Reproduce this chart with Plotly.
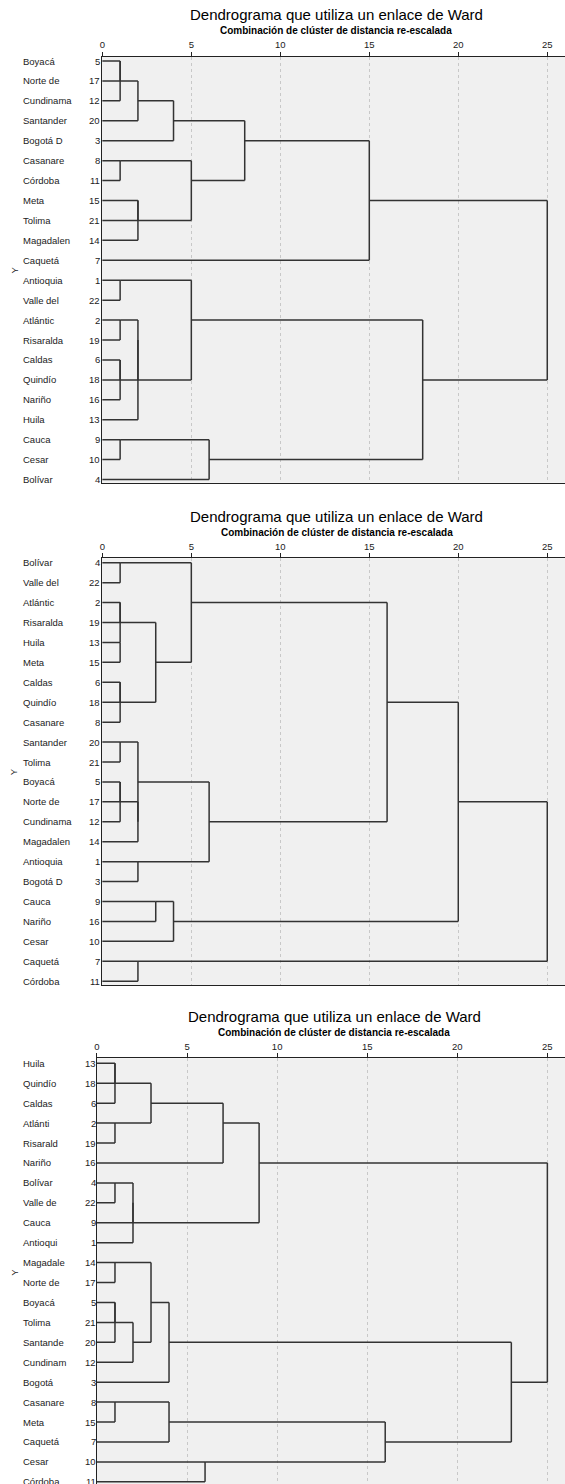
import math
import plotly.graph_objects as go

W, H = 565, 1484

# ---------------- data ----------------
title_text = "Dendrograma que utiliza un enlace de Ward"
subtitle_text = "Combinación de clúster de distancia re-escalada"
x_ticks = [0, 5, 10, 15, 20, 25]
y_title = "Y"

# Panel 1
names1 = ["Boyacá", "Norte de", "Cundinama", "Santander", "Bogotá D", "Casanare", "Córdoba",
          "Meta", "Tolima", "Magadalen", "Caquetá", "Antioquia", "Valle del", "Atlántic",
          "Risaralda", "Caldas", "Quindío", "Nariño", "Huila", "Cauca", "Cesar", "Bolívar"]
cases1 = [5, 17, 12, 20, 3, 8, 11, 15, 21, 14, 7, 1, 22, 2, 19, 6, 18, 16, 13, 9, 10, 4]
merge_a1 = [5, 5, 5, 5, 8, 15, 15, 8, 5, 5, 1, 2, 6, 6, 2, 2, 1, 9, 9, 1, 5]
merge_b1 = [17, 12, 20, 3, 11, 21, 14, 15, 8, 7, 22, 19, 18, 16, 6, 13, 2, 10, 4, 9, 1]
merge_h1 = [1, 1, 2, 4, 1, 2, 2, 5, 8, 15, 1, 1, 1, 1, 2, 2, 5, 1, 6, 18, 25]

# Panel 2
names2 = ["Bolívar", "Valle del", "Atlántic", "Risaralda", "Huila", "Meta", "Caldas", "Quindío",
          "Casanare", "Santander", "Tolima", "Boyacá", "Norte de", "Cundinama", "Magadalen",
          "Antioquia", "Bogotá D", "Cauca", "Nariño", "Cesar", "Caquetá", "Córdoba"]
cases2 = [4, 22, 2, 19, 13, 15, 6, 18, 8, 20, 21, 5, 17, 12, 14, 1, 3, 9, 16, 10, 7, 11]
merge_a2 = [4, 13, 2, 2, 6, 6, 2, 4, 20, 5, 5, 5, 20, 1, 20, 4, 9, 9, 4, 7, 4]
merge_b2 = [22, 15, 19, 13, 18, 8, 6, 2, 21, 17, 12, 14, 5, 3, 1, 20, 16, 10, 9, 11, 7]
merge_h2 = [1, 1, 1, 1, 1, 1, 3, 5, 1, 1, 1, 2, 2, 2, 6, 16, 3, 4, 20, 2, 25]

# Panel 3
names3 = ["Huila", "Quindío", "Caldas", "Atlánti", "Risarald", "Nariño", "Bolívar", "Valle de",
          "Cauca", "Antioqui", "Magadale", "Norte de", "Boyacá", "Tolima", "Santande", "Cundinam",
          "Bogotá", "Casanare", "Meta", "Caquetá", "Cesar", "Córdoba"]
cases3 = [13, 18, 6, 2, 19, 16, 4, 22, 9, 1, 14, 17, 5, 21, 20, 12, 3, 8, 15, 7, 10, 11]
merge_a3 = [13, 13, 2, 13, 13, 4, 4, 4, 13, 14, 5, 5, 5, 14, 14, 8, 8, 10, 8, 14, 13]
merge_b3 = [18, 6, 19, 2, 16, 22, 9, 1, 4, 17, 21, 20, 12, 5, 3, 15, 7, 11, 10, 8, 14]
merge_h3 = [1, 1, 1, 3, 7, 1, 2, 2, 9, 1, 1, 1, 2, 3, 4, 1, 4, 6, 16, 23, 25]


# ---------------- dendrogram geometry from merges ----------------
def dendro_segments(cases, ma, mb, mh):
    row = {c: i for i, c in enumerate(cases)}
    owner = {c: c for c in cases}
    members = {c: [c] for c in cases}
    state = {c: (0.0, row[c]) for c in cases}
    xs, ys = [], []
    for a, b, h in zip(ma, mb, mh):
        ca, cb = owner[a], owner[b]
        xa, ya = state[ca]
        xb, yb = state[cb]
        for x0, y0 in ((xa, ya), (xb, yb)):
            if h > x0:
                xs += [x0, h, None]
                ys += [y0, y0, None]
        xs += [h, h, None]
        ys += [ya, yb, None]
        ny = math.floor((ya + yb) / 2)
        for m in members[cb]:
            owner[m] = ca
        members[ca] += members[cb]
        state[ca] = (h, ny)
    return xs, ys


panels = [
    dict(names=names1, cases=cases1, ma=merge_a1, mb=merge_b1, mh=merge_h1,
         top=56.7, row0=61.0, bottom=482.7, left=100.0, x0px=100.7, unit=17.86,
         tx=335.5, numx=98.6, namex=21.5, mirror=True),
    dict(names=names2, cases=cases2, ma=merge_a2, mb=merge_b2, mh=merge_h2,
         top=558.3, row0=562.7, bottom=985.0, left=100.0, x0px=100.7, unit=17.86,
         tx=336.0, numx=98.6, namex=21.5, mirror=True),
    dict(names=names3, cases=cases3, ma=merge_a3, mb=merge_b3, mh=merge_h3,
         top=1058.3, row0=1063.3, bottom=1484.0, left=95.0, x0px=95.3, unit=18.08,
         tx=333.3, numx=94.3, namex=21.0, mirror=False),
]
ROW = 19.93
FONT = "Liberation Sans, Arial, Helvetica, sans-serif"


def py(px):
    return 1 - px / H


fig = go.Figure()
annotations = []
layout = dict(
    width=W, height=H, margin=dict(l=0, r=0, t=0, b=0),
    paper_bgcolor="white", plot_bgcolor="#f0f0f0", showlegend=False,
    font=dict(family=FONT, color="#222222"),
)

for k, p in enumerate(panels):
    sfx = "" if k == 0 else str(k + 1)
    xs, ys = dendro_segments(p["cases"], p["ma"], p["mb"], p["mh"])
    fig.add_trace(go.Scatter(
        x=xs, y=ys, mode="lines", line=dict(color="#333333", width=1.5),
        xaxis="x" + sfx, yaxis="y" + sfx, hoverinfo="skip", showlegend=False,
    ))
    xr = [(p["left"] - p["x0px"]) / p["unit"], (W - p["x0px"]) / p["unit"]]
    yr = [(p["bottom"] - p["row0"]) / ROW, (p["top"] - p["row0"]) / ROW]
    layout["xaxis" + sfx] = dict(
        domain=[p["left"] / W, 1], range=xr, side="top", anchor="y" + sfx,
        tickmode="array", tickvals=x_ticks, ticktext=[str(t) for t in x_ticks],
        ticks="outside", ticklen=4, tickwidth=1, tickcolor="#222222",
        tickfont=dict(size=9.5, color="#222222", family=FONT),
        showline=True, linecolor="#222222", linewidth=1, mirror=p["mirror"],
        showgrid=True, gridcolor="#c8c8c8", gridwidth=1, griddash="3px,3px",
        zeroline=False, fixedrange=True,
    )
    layout["yaxis" + sfx] = dict(
        domain=[py(p["bottom"]), py(p["top"])], range=yr, anchor="x" + sfx,
        showticklabels=False, ticks="", showgrid=False, zeroline=False,
        showline=True, linecolor="#222222", linewidth=1, fixedrange=True,
    )
    # titles
    annotations.append(dict(
        text=title_text, xref="paper", yref="paper", x=p["tx"] / W, y=py(p["top"] - 42.0),
        xanchor="center", yanchor="middle", showarrow=False,
        font=dict(size=15, color="#000000", family=FONT)))
    annotations.append(dict(
        text="<b>" + subtitle_text + "</b>", xref="paper", yref="paper",
        x=p["tx"] / W, y=py(p["top"] - 26.0),
        xanchor="center", yanchor="middle", showarrow=False,
        font=dict(size=10, color="#000000", family=FONT)))
    # leaf labels
    for i, (nm, cs) in enumerate(zip(p["names"], p["cases"])):
        annotations.append(dict(
            text=nm, xref="paper", yref="y" + sfx, x=p["namex"] / W, y=i,
            xanchor="left", yanchor="middle", showarrow=False,
            borderpad=0, borderwidth=0,
            font=dict(size=9.5, color="#222222", family=FONT)))
        annotations.append(dict(
            text=str(cs), xref="paper", yref="y" + sfx, x=p["numx"] / W, y=i,
            xanchor="right", yanchor="middle", showarrow=False,
            borderpad=0, borderwidth=0,
            font=dict(size=9.5, color="#222222", family=FONT)))
    annotations.append(dict(
        text=y_title, xref="paper", yref="y" + sfx, x=12.3 / W, y=10.5,
        xanchor="center", yanchor="middle", showarrow=False, textangle=-90,
        font=dict(size=9.5, color="#222222", family=FONT)))

layout["annotations"] = annotations
fig.update_layout(**layout)
fig.write_html(
    "out.html",
    config={"displayModeBar": False},
    post_script="document.body.style.margin='0';document.body.style.padding='0';"
                "document.documentElement.style.overflow='hidden';",
)
